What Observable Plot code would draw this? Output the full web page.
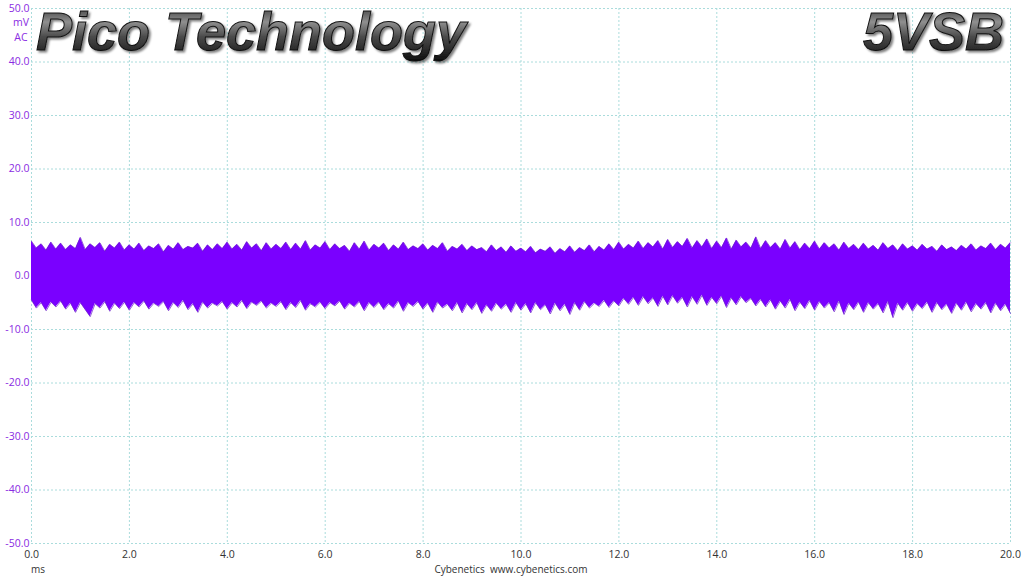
<!DOCTYPE html>
<html>
<head>
<meta charset="utf-8">
<script src="https://cdn.jsdelivr.net/npm/d3@7"></script>
<script src="https://cdn.jsdelivr.net/npm/@observablehq/plot@0.6"></script>
<style>
  html, body { margin: 0; padding: 0; background: #fff; }
  #chart { position: relative; width: 1024px; height: 576px; }
</style>
</head>
<body>
<div id="chart"></div>
<script>
// Sample step (ms) of the envelope readings
const stepMs = 0.1;
// Upper envelope of the ripple (mV), read every 0.1 ms from 0 to 20 ms
const upper = [
  6.5, 5.2, 6.0, 4.8, 6.3, 5.0, 6.1, 4.9, 5.8, 5.1,
  7.2, 4.9, 6.0, 5.3, 6.2, 4.6, 5.9, 5.2, 6.3, 4.8,
  5.8, 5.0, 6.1, 4.7, 5.6, 5.1, 6.0, 4.5, 5.7, 5.0,
  6.2, 4.9, 5.5, 5.2, 6.1, 4.6, 5.8, 4.9, 6.0, 5.1,
  6.3, 5.0, 5.9, 4.8, 6.4, 5.2, 6.0, 4.7, 6.2, 5.0,
  5.9, 5.1, 6.3, 4.9, 6.1, 5.0, 6.6, 4.8, 5.8, 5.2,
  6.4, 4.9, 6.0, 5.1, 5.7, 4.6, 6.2, 5.0, 6.5, 4.8,
  5.9, 5.2, 6.1, 4.7, 5.8, 5.0, 6.3, 4.9, 5.6, 5.1,
  6.0, 4.8, 5.7, 5.1, 6.2, 4.6, 5.5, 5.0, 5.9, 4.7,
  5.6, 4.9, 5.3, 4.5, 5.8, 4.7, 5.4, 4.4, 5.6, 4.6,
  5.2, 4.5, 5.5, 4.3, 5.0, 4.6, 5.4, 4.2, 5.1, 4.5,
  5.6, 4.4, 5.3, 4.7, 5.8, 4.5, 5.5, 4.8, 6.0, 4.9,
  6.3, 5.0, 5.9, 5.2, 6.5, 5.1, 6.2, 5.4, 6.6, 5.0,
  6.8, 5.3, 6.4, 5.5, 7.0, 5.2, 6.6, 5.4, 6.9, 5.1,
  6.5, 5.3, 7.1, 5.0, 6.7, 5.4, 6.3, 5.2, 7.3, 5.1,
  6.6, 5.3, 6.2, 5.0, 6.8, 5.2, 6.4, 4.9, 6.1, 5.1,
  6.5, 5.0, 6.2, 5.2, 6.0, 4.8, 6.3, 5.1, 5.9, 4.9,
  6.1, 5.0, 5.7, 4.8, 6.2, 5.1, 5.8, 4.7, 6.0, 5.0,
  5.6, 4.8, 5.9, 5.0, 5.5, 4.6, 5.8, 4.9, 5.4, 4.7,
  5.7, 5.0, 6.0, 4.8, 5.6, 5.1, 6.1, 4.9, 5.9, 5.2,
  6.2
];
// Lower envelope of the ripple (mV), same sampling
const lower = [
  -4.5, -6.0, -5.0, -6.5, -4.9, -5.8, -4.7, -6.2, -5.1, -6.8,
  -5.0, -6.3, -7.6, -5.2, -6.0, -4.8, -6.6, -5.1, -6.1, -4.9,
  -6.4, -5.0, -5.8, -4.7, -6.2, -5.1, -5.7, -4.8, -6.5, -5.0,
  -5.9, -4.6, -6.3, -5.2, -6.8, -4.9, -6.0, -5.1, -5.6, -4.8,
  -6.2, -5.0, -5.8, -4.6, -6.1, -4.9, -5.5, -4.7, -6.0, -5.1,
  -5.7, -4.8, -6.3, -5.0, -5.9, -4.6, -6.4, -5.2, -5.8, -4.9,
  -6.1, -5.0, -5.6, -4.7, -6.2, -5.1, -5.8, -4.8, -6.5, -5.0,
  -5.9, -4.9, -6.3, -5.2, -6.0, -4.7, -6.6, -5.0, -5.7, -4.8,
  -6.2, -5.1, -6.8, -4.9, -6.0, -5.3, -6.5, -5.0, -6.9, -5.2,
  -6.3, -5.0, -7.0, -5.4, -6.6, -5.1, -6.2, -5.3, -6.8, -5.0,
  -6.4, -5.2, -6.9, -5.0, -6.3, -5.4, -7.1, -5.1, -6.5, -5.3,
  -7.2, -5.0, -6.4, -4.8, -6.0, -5.1, -5.7, -4.6, -5.9, -4.7,
  -5.6, -4.2, -5.3, -4.0, -5.5, -3.9, -5.2, -4.1, -5.7, -3.8,
  -5.4, -3.7, -5.1, -4.0, -5.8, -3.9, -5.3, -3.6, -5.5, -4.0,
  -5.2, -3.8, -5.9, -4.1, -5.4, -3.9, -5.0, -4.2, -5.6, -4.4,
  -5.8, -4.5, -6.2, -4.7, -6.0, -4.4, -6.5, -4.9, -6.1, -4.6,
  -6.4, -4.8, -6.0, -5.0, -6.7, -4.7, -7.2, -5.1, -6.3, -4.9,
  -6.8, -5.0, -6.2, -5.2, -6.9, -4.8, -7.8, -5.1, -6.4, -5.0,
  -6.6, -5.2, -6.1, -4.9, -6.8, -5.0, -6.3, -5.3, -7.0, -5.1,
  -6.4, -4.9, -6.7, -5.2, -6.2, -5.0, -6.9, -5.1, -6.5, -5.3,
  -7.0
];
// Tick positions
const xTicks = [0, 2, 4, 6, 8, 10, 12, 14, 16, 18, 20];
const yTicks = [-50, -40, -30, -20, -10, 0, 10, 20, 30, 40, 50];
// Text
const titleLeft = "Pico Technology";
const titleRight = "5VSB";
const yUnit = ["mV", "AC"];
const xUnit = "ms";
const credit = "Cybenetics  www.cybenetics.com";

const data = upper.map((hi, i) => ({t: +(i * stepMs).toFixed(2), hi, lo: lower[i]}));

const gridColor = "#aadcdc";
const purple = "#7a00ff";

const chart = Plot.plot({
  width: 1024,
  height: 576,
  marginLeft: 31,
  marginRight: 14,
  marginTop: 8,
  marginBottom: 33,
  style: {fontFamily: "'Open Sans', 'DejaVu Sans', sans-serif", fontSize: "10.5px", background: "#fff"},
  x: {domain: [0, 20], ticks: xTicks, tickFormat: d => d.toFixed(1), tickSize: 0, tickPadding: 7, label: null},
  y: {domain: [-50, 50], ticks: yTicks, tickFormat: d => d.toFixed(1), tickSize: 0, tickPadding: 2, label: null},
  marks: [
    Plot.gridX(xTicks, {stroke: gridColor, strokeOpacity: 1, strokeDasharray: "2,2", strokeWidth: 1}),
    Plot.gridY(yTicks, {stroke: gridColor, strokeOpacity: 1, strokeDasharray: "2,2", strokeWidth: 1}),
    Plot.areaY(data, {x: "t", y1: "lo", y2: "hi", fill: purple, curve: "linear"}),
    Plot.line(data, {x: "t", y: "hi", stroke: "#6d22c9", strokeWidth: 0.7}),
    Plot.line(data, {x: "t", y: "lo", stroke: "#6d22c9", strokeWidth: 0.7}),
    Plot.axisX(xTicks, {tickSize: 0, tickPadding: 7, tickFormat: d => d.toFixed(1), fill: "#333", label: null}),
    Plot.axisY(yTicks, {tickSize: 0, tickPadding: 2, tickFormat: d => d.toFixed(1), fill: "#8a2be2", label: null})
  ]
});

document.getElementById("chart").appendChild(chart);

const svg = d3.select(chart);
const defs = svg.append("defs");
const grad = defs.append("linearGradient").attr("id", "metal").attr("x1", 0).attr("y1", 0).attr("x2", 0).attr("y2", 1);
grad.append("stop").attr("offset", "0%").attr("stop-color", "#222");
grad.append("stop").attr("offset", "35%").attr("stop-color", "#8f8f8f");
grad.append("stop").attr("offset", "60%").attr("stop-color", "#4a4a4a");
grad.append("stop").attr("offset", "100%").attr("stop-color", "#0d0d0d");
const filt = defs.append("filter").attr("id", "shadow").attr("x", "-10%").attr("y", "-20%").attr("width", "130%").attr("height", "150%");
filt.append("feDropShadow").attr("dx", 2).attr("dy", 2).attr("stdDeviation", 1.2).attr("flood-color", "#000").attr("flood-opacity", 0.5);

const titleStyle = sel => sel
  .attr("font-family", "'Liberation Sans', Arial, sans-serif")
  .attr("font-size", 54)
  .attr("font-style", "italic")
  .attr("font-weight", "bold")
  .attr("fill", "url(#metal)")
  .attr("stroke", "#111")
  .attr("stroke-width", 1)
  .attr("filter", "url(#shadow)");

svg.append("text").attr("x", 36).attr("y", 50).attr("text-anchor", "start").text(titleLeft).call(titleStyle);
svg.append("text").attr("x", 1004).attr("y", 50).attr("text-anchor", "end").text(titleRight).call(titleStyle);

yUnit.forEach((u, i) => {
  svg.append("text").attr("x", 21).attr("y", 26 + i * 15).attr("text-anchor", "middle")
    .attr("font-family", "'Open Sans', 'DejaVu Sans', sans-serif").attr("font-size", 10.5)
    .attr("fill", "#8a2be2").text(u);
});
svg.append("text").attr("x", 38).attr("y", 573).attr("text-anchor", "middle")
  .attr("font-family", "'Open Sans', 'DejaVu Sans', sans-serif").attr("font-size", 10)
  .attr("fill", "#333").text(xUnit);
svg.append("text").attr("x", 511).attr("y", 573).attr("text-anchor", "middle")
  .attr("font-family", "'Open Sans', 'DejaVu Sans', sans-serif").attr("font-size", 10)
  .attr("fill", "#333").attr("xml:space", "preserve").style("white-space", "pre").text(credit);
</script>
</body>
</html>
